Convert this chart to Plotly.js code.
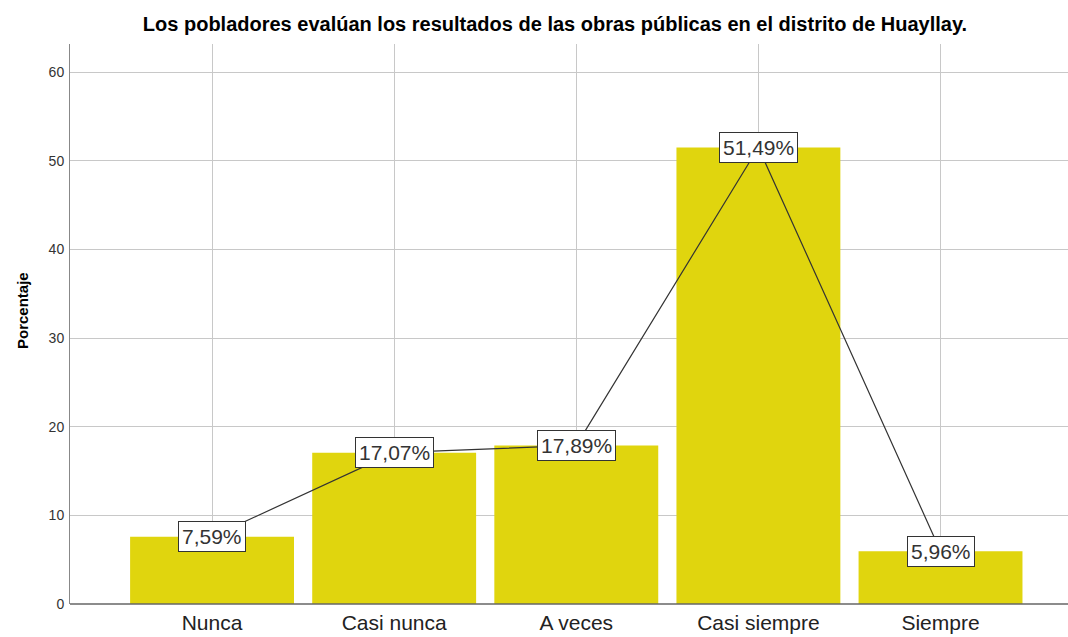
<!DOCTYPE html>
<html>
<head>
<meta charset="utf-8">
<script src="https://cdn.plot.ly/plotly-3.0.1.min.js"></script>
<style>html,body{margin:0;padding:0;background:#fff;}#chart{width:1068px;height:637px;}</style>
</head>
<body>
<div id="chart"></div>
<script>
var categories = ["Nunca", "Casi nunca", "A veces", "Casi siempre", "Siempre"];
var percentages = [7.59, 17.07, 17.89, 51.49, 5.96];
var labelTexts = ["7,59%", "17,07%", "17,89%", "51,49%", "5,96%"];
var yTicks = [0, 10, 20, 30, 40, 50, 60];

var FONT = '"Liberation Sans", Arial, sans-serif';

var traces = [
  {
    type: 'bar',
    x: categories,
    y: percentages,
    width: 0.9,
    marker: {color: '#e0d50e', line: {width: 0}},
    hoverinfo: 'skip'
  },
  {
    type: 'scatter',
    mode: 'lines',
    x: categories,
    y: percentages,
    line: {color: '#333333', width: 1.2},
    hoverinfo: 'skip'
  }
];

var annotations = categories.map(function (c, i) {
  return {
    x: c, y: percentages[i], xref: 'x', yref: 'y',
    text: labelTexts[i], showarrow: false,
    font: {family: FONT, size: 21, color: '#333333'},
    bgcolor: '#ffffff', bordercolor: '#333333', borderwidth: 1, borderpad: 3,
    xanchor: 'center', yanchor: 'middle'
  };
});
annotations.push({
  xref: 'paper', yref: 'paper', x: -70/998 + 22/998, y: (604-311)/560,
  text: 'Porcentaje', textangle: -90, showarrow: false,
  font: {family: FONT, size: 15, color: '#000000', weight: 'bold'},
  xanchor: 'center', yanchor: 'middle'
});

var layout = {
  width: 1068, height: 637,
  margin: {l: 70, r: 0, t: 44, b: 33, pad: 0},
  paper_bgcolor: '#ffffff', plot_bgcolor: '#ffffff',
  showlegend: false,
  title: {
    text: '<b>Los pobladores evalúan los resultados de las obras públicas en el distrito de Huayllay.</b>',
    font: {family: FONT, size: 20, color: '#000000'},
    x: 555/1068, xanchor: 'center', y: 1 - 24/637, yanchor: 'middle'
  },
  xaxis: {
    type: 'category',
    range: [-0.78, 4.70],
    showgrid: true, gridcolor: '#c8c8c8', gridwidth: 1,
    showline: false, zeroline: false,
    ticks: '', tickfont: {family: FONT, size: 21, color: '#222222'},
    ticklabelstandoff: 4
  },
  yaxis: {
    range: [0, 63.16],
    tickvals: yTicks, ticktext: yTicks.map(String),
    showgrid: true, gridcolor: '#c8c8c8', gridwidth: 1,
    showline: true, linecolor: '#888888', linewidth: 1,
    zeroline: false, ticks: '',
    tickfont: {family: FONT, size: 14, color: '#333333'},
    ticklabelstandoff: 2
  },
  shapes: [{type: 'line', xref: 'paper', yref: 'paper', x0: 0, x1: 1, y0: 0, y1: 0, line: {color: '#666666', width: 1.5}}],
  annotations: annotations,
  bargap: 0.1
};

Plotly.newPlot('chart', traces, layout, {displayModeBar: false, staticPlot: true});
</script>
</body>
</html>
